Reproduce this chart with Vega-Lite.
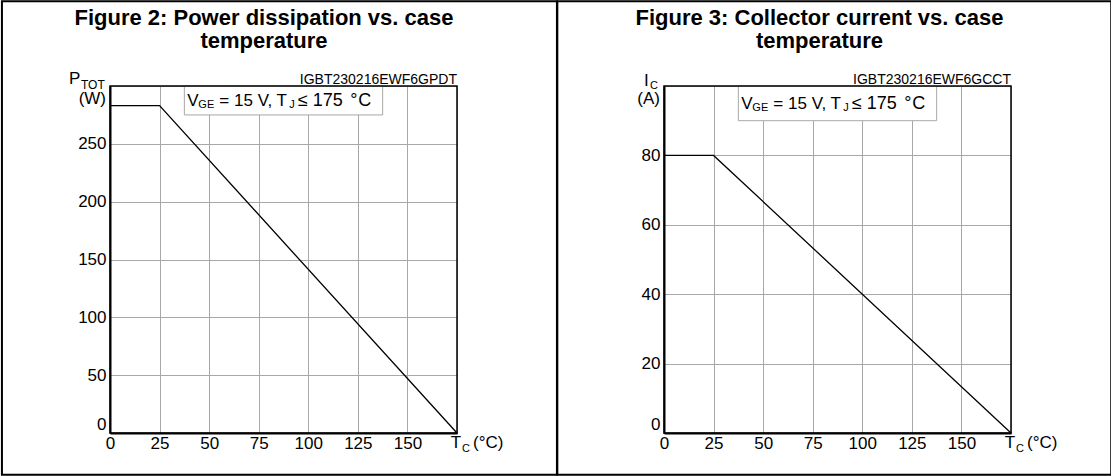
{
  "$schema": "https://vega.github.io/schema/vega-lite/v6.json",
  "background": "white",
  "padding": 0,
  "autosize": {"type": "pad"},
  "spacing": 207,
  "bounds": "flush",
  "config": {
    "font": "Liberation Sans",
    "view": {"stroke": null},
    "axis": {"grid": true, "labelFont": "Liberation Sans", "labelFontSize": 17, "labelColor": "black", "gridColor": "#a8a8a8", "gridOpacity": 1, "gridWidth": 1, "domainColor": "black", "domainWidth": 2, "ticks": false},
    "text": {"font": "Liberation Sans", "color": "black", "fontSize": 17}
  },
  "hconcat": [
    {
      "width": 347,
      "height": 347,
      "layer": [
        {
          "data": {"values": [{}]},
          "mark": {"type": "rect", "filled": false, "stroke": "black", "strokeWidth": 2},
          "encoding": {
            "x": {"datum": -54.5, "type": "quantitative", "scale": {"domain": [0, 175], "nice": false}},
            "x2": {"datum": 225.4},
            "y": {"datum": -36.1, "type": "quantitative", "scale": {"domain": [0, 300], "nice": false}},
            "y2": {"datum": 373.2}
          }
        },
        {
          "data": {"values": [{}]},
          "mark": {"type": "rect", "fill": "white", "stroke": "#a8a8a8", "strokeWidth": 1},
          "encoding": {
            "x": {"datum": 37.5, "type": "quantitative"},
            "x2": {"datum": 137.5},
            "y": {"datum": 275, "type": "quantitative"},
            "y2": {"datum": 300}
          }
        },
        {
          "data": {"values": [{"tc": 0, "ptot": 283}, {"tc": 25, "ptot": 283}, {"tc": 175, "ptot": 0}]},
          "mark": {"type": "line", "color": "black", "strokeWidth": 1.3},
          "encoding": {
            "x": {"field": "tc", "type": "quantitative", "scale": {"domain": [0, 175], "nice": false},
              "axis": {"title": null, "grid": true, "values": [0, 12.5, 25, 37.5, 50, 62.5, 75, 87.5, 100, 112.5, 125, 137.5, 150, 162.5, 175], "labelExpr": "datum.value % 25 == 0 && datum.value < 175 ? '' + datum.value : ''", "labelPadding": 2, "labelFlush": false, "labelOverlap": false, "labelAngle": 0}},
            "y": {"field": "ptot", "type": "quantitative", "scale": {"domain": [0, 300], "nice": false},
              "axis": {"title": null, "grid": true, "values": [0, 25, 50, 75, 100, 125, 150, 175, 200, 225, 250, 275, 300], "labelExpr": "datum.value % 50 == 0 && datum.value < 300 ? '' + datum.value : ''", "labelPadding": 4, "labelFlush": true, "labelFlushOffset": 0, "labelOverlap": false}}
          }
        },
        {
          "data": {"values": [{}]},
          "mark": {"type": "rect", "filled": false, "stroke": "black", "strokeWidth": 1.5},
          "encoding": {
            "x": {"datum": 0, "type": "quantitative"},
            "x2": {"datum": 175},
            "y": {"datum": 0, "type": "quantitative"},
            "y2": {"datum": 300}
          }
        },
        {"data": {"values": [{}]}, "mark": {"type": "text", "text": ["Figure 2: Power dissipation vs. case", "temperature"], "fontSize": 22, "fontWeight": "bold", "lineHeight": 23, "align": "center", "baseline": "middle", "dx": -19.5, "dy": -68}, "encoding": {"x": {"datum": 87.5, "type": "quantitative"}, "y": {"datum": 300, "type": "quantitative"}}},
        {"data": {"values": [{}]}, "mark": {"type": "text", "text": "V", "align": "left", "baseline": "middle", "dx": 3, "dy": 1}, "encoding": {"x": {"datum": 37.5, "type": "quantitative"}, "y": {"datum": 287.5, "type": "quantitative"}}},
        {"data": {"values": [{}]}, "mark": {"type": "text", "text": "GE", "fontSize": 11, "align": "left", "baseline": "middle", "dx": 14, "dy": 5}, "encoding": {"x": {"datum": 37.5, "type": "quantitative"}, "y": {"datum": 287.5, "type": "quantitative"}}},
        {"data": {"values": [{}]}, "mark": {"type": "text", "text": "= 15 V, T", "align": "left", "baseline": "middle", "dx": 35, "dy": 1}, "encoding": {"x": {"datum": 37.5, "type": "quantitative"}, "y": {"datum": 287.5, "type": "quantitative"}}},
        {"data": {"values": [{}]}, "mark": {"type": "text", "text": "J", "fontSize": 11, "align": "left", "baseline": "middle", "dx": 105, "dy": 5}, "encoding": {"x": {"datum": 37.5, "type": "quantitative"}, "y": {"datum": 287.5, "type": "quantitative"}}},
        {"data": {"values": [{}]}, "mark": {"type": "text", "text": "≤ 175", "fontSize": 18, "align": "left", "baseline": "middle", "dx": 113.6, "dy": 1}, "encoding": {"x": {"datum": 37.5, "type": "quantitative"}, "y": {"datum": 287.5, "type": "quantitative"}}},
        {"data": {"values": [{}]}, "mark": {"type": "text", "text": "°", "fontSize": 18, "align": "left", "baseline": "middle", "dx": 166, "dy": 1}, "encoding": {"x": {"datum": 37.5, "type": "quantitative"}, "y": {"datum": 287.5, "type": "quantitative"}}},
        {"data": {"values": [{}]}, "mark": {"type": "text", "text": "C", "fontSize": 18, "align": "left", "baseline": "middle", "dx": 174, "dy": 1}, "encoding": {"x": {"datum": 37.5, "type": "quantitative"}, "y": {"datum": 287.5, "type": "quantitative"}}},
        {"data": {"values": [{}]}, "mark": {"type": "text", "text": "IGBT230216EWF6GPDT", "fontSize": 14, "align": "right", "baseline": "alphabetic", "dy": -2}, "encoding": {"x": {"datum": 175, "type": "quantitative"}, "y": {"datum": 300, "type": "quantitative"}}},
        {"data": {"values": [{}]}, "mark": {"type": "text", "text": "P", "align": "left", "baseline": "middle", "dx": -41, "dy": -7}, "encoding": {"x": {"datum": 0, "type": "quantitative"}, "y": {"datum": 300, "type": "quantitative"}}},
        {"data": {"values": [{}]}, "mark": {"type": "text", "text": "TOT", "fontSize": 12, "align": "left", "baseline": "middle", "dx": -29, "dy": -1}, "encoding": {"x": {"datum": 0, "type": "quantitative"}, "y": {"datum": 300, "type": "quantitative"}}},
        {"data": {"values": [{}]}, "mark": {"type": "text", "text": "(W)", "align": "right", "baseline": "middle", "dx": -4, "dy": 13}, "encoding": {"x": {"datum": 0, "type": "quantitative"}, "y": {"datum": 300, "type": "quantitative"}}},
        {"data": {"values": [{}]}, "mark": {"type": "text", "text": "T", "align": "center", "baseline": "top", "dx": -1, "dy": 2}, "encoding": {"x": {"datum": 175, "type": "quantitative"}, "y": {"datum": 0, "type": "quantitative"}}},
        {"data": {"values": [{}]}, "mark": {"type": "text", "text": "C", "fontSize": 11, "align": "left", "baseline": "top", "dx": 5, "dy": 10}, "encoding": {"x": {"datum": 175, "type": "quantitative"}, "y": {"datum": 0, "type": "quantitative"}}},
        {"data": {"values": [{}]}, "mark": {"type": "text", "text": "(°C)", "align": "left", "baseline": "top", "dx": 16, "dy": 2}, "encoding": {"x": {"datum": 175, "type": "quantitative"}, "y": {"datum": 0, "type": "quantitative"}}}
      ]
    },
    {
      "width": 347,
      "height": 347,
      "layer": [
        {
          "data": {"values": [{}]},
          "mark": {"type": "rect", "filled": false, "stroke": "black", "strokeWidth": 2},
          "encoding": {
            "x": {"datum": -53.8, "type": "quantitative", "scale": {"domain": [0, 175], "nice": false}},
            "x2": {"datum": 225.56},
            "y": {"datum": -12.05, "type": "quantitative", "scale": {"domain": [0, 100], "nice": false}},
            "y2": {"datum": 124.4}
          }
        },
        {
          "data": {"values": [{}]},
          "mark": {"type": "rect", "fill": "white", "stroke": "#a8a8a8", "strokeWidth": 1},
          "encoding": {
            "x": {"datum": 37.5, "type": "quantitative"},
            "x2": {"datum": 137.5},
            "y": {"datum": 90, "type": "quantitative"},
            "y2": {"datum": 100}
          }
        },
        {
          "data": {"values": [{"tc": 0, "ic": 80}, {"tc": 25, "ic": 80}, {"tc": 175, "ic": 0}]},
          "mark": {"type": "line", "color": "black", "strokeWidth": 1.3},
          "encoding": {
            "x": {"field": "tc", "type": "quantitative", "scale": {"domain": [0, 175], "nice": false},
              "axis": {"title": null, "grid": true, "values": [0, 12.5, 25, 37.5, 50, 62.5, 75, 87.5, 100, 112.5, 125, 137.5, 150, 162.5, 175], "labelExpr": "datum.value % 25 == 0 && datum.value < 175 ? '' + datum.value : ''", "labelPadding": 2, "labelFlush": false, "labelOverlap": false, "labelAngle": 0}},
            "y": {"field": "ic", "type": "quantitative", "scale": {"domain": [0, 100], "nice": false},
              "axis": {"title": null, "grid": true, "values": [0, 10, 20, 30, 40, 50, 60, 70, 80, 90, 100], "labelExpr": "datum.value % 20 == 0 && datum.value < 100 ? '' + datum.value : ''", "labelPadding": 4, "labelFlush": true, "labelFlushOffset": 0, "labelOverlap": false}}
          }
        },
        {
          "data": {"values": [{}]},
          "mark": {"type": "rect", "filled": false, "stroke": "black", "strokeWidth": 1.5},
          "encoding": {
            "x": {"datum": 0, "type": "quantitative"},
            "x2": {"datum": 175},
            "y": {"datum": 0, "type": "quantitative"},
            "y2": {"datum": 100}
          }
        },
        {"data": {"values": [{}]}, "mark": {"type": "text", "text": ["Figure 3: Collector current vs. case", "temperature"], "fontSize": 22, "fontWeight": "bold", "lineHeight": 23, "align": "center", "baseline": "middle", "dx": -18, "dy": -68}, "encoding": {"x": {"datum": 87.5, "type": "quantitative"}, "y": {"datum": 100, "type": "quantitative"}}},
        {"data": {"values": [{}]}, "mark": {"type": "text", "text": "V", "align": "left", "baseline": "middle", "dx": 3, "dy": 1}, "encoding": {"x": {"datum": 37.5, "type": "quantitative"}, "y": {"datum": 95, "type": "quantitative"}}},
        {"data": {"values": [{}]}, "mark": {"type": "text", "text": "GE", "fontSize": 11, "align": "left", "baseline": "middle", "dx": 14, "dy": 5}, "encoding": {"x": {"datum": 37.5, "type": "quantitative"}, "y": {"datum": 95, "type": "quantitative"}}},
        {"data": {"values": [{}]}, "mark": {"type": "text", "text": "= 15 V, T", "align": "left", "baseline": "middle", "dx": 35, "dy": 1}, "encoding": {"x": {"datum": 37.5, "type": "quantitative"}, "y": {"datum": 95, "type": "quantitative"}}},
        {"data": {"values": [{}]}, "mark": {"type": "text", "text": "J", "fontSize": 11, "align": "left", "baseline": "middle", "dx": 105, "dy": 5}, "encoding": {"x": {"datum": 37.5, "type": "quantitative"}, "y": {"datum": 95, "type": "quantitative"}}},
        {"data": {"values": [{}]}, "mark": {"type": "text", "text": "≤ 175", "fontSize": 18, "align": "left", "baseline": "middle", "dx": 113.6, "dy": 1}, "encoding": {"x": {"datum": 37.5, "type": "quantitative"}, "y": {"datum": 95, "type": "quantitative"}}},
        {"data": {"values": [{}]}, "mark": {"type": "text", "text": "°", "fontSize": 18, "align": "left", "baseline": "middle", "dx": 166, "dy": 1}, "encoding": {"x": {"datum": 37.5, "type": "quantitative"}, "y": {"datum": 95, "type": "quantitative"}}},
        {"data": {"values": [{}]}, "mark": {"type": "text", "text": "C", "fontSize": 18, "align": "left", "baseline": "middle", "dx": 174, "dy": 1}, "encoding": {"x": {"datum": 37.5, "type": "quantitative"}, "y": {"datum": 95, "type": "quantitative"}}},
        {"data": {"values": [{}]}, "mark": {"type": "text", "text": "IGBT230216EWF6GCCT", "fontSize": 14, "align": "right", "baseline": "alphabetic", "dy": -2}, "encoding": {"x": {"datum": 175, "type": "quantitative"}, "y": {"datum": 100, "type": "quantitative"}}},
        {"data": {"values": [{}]}, "mark": {"type": "text", "text": "I", "align": "left", "baseline": "middle", "dx": -20, "dy": -5}, "encoding": {"x": {"datum": 0, "type": "quantitative"}, "y": {"datum": 100, "type": "quantitative"}}},
        {"data": {"values": [{}]}, "mark": {"type": "text", "text": "C", "fontSize": 11, "align": "left", "baseline": "middle", "dx": -14, "dy": 0}, "encoding": {"x": {"datum": 0, "type": "quantitative"}, "y": {"datum": 100, "type": "quantitative"}}},
        {"data": {"values": [{}]}, "mark": {"type": "text", "text": "(A)", "align": "right", "baseline": "middle", "dx": -4, "dy": 13}, "encoding": {"x": {"datum": 0, "type": "quantitative"}, "y": {"datum": 100, "type": "quantitative"}}},
        {"data": {"values": [{}]}, "mark": {"type": "text", "text": "T", "align": "center", "baseline": "top", "dx": -1, "dy": 2}, "encoding": {"x": {"datum": 175, "type": "quantitative"}, "y": {"datum": 0, "type": "quantitative"}}},
        {"data": {"values": [{}]}, "mark": {"type": "text", "text": "C", "fontSize": 11, "align": "left", "baseline": "top", "dx": 5, "dy": 10}, "encoding": {"x": {"datum": 175, "type": "quantitative"}, "y": {"datum": 0, "type": "quantitative"}}},
        {"data": {"values": [{}]}, "mark": {"type": "text", "text": "(°C)", "align": "left", "baseline": "top", "dx": 16, "dy": 2}, "encoding": {"x": {"datum": 175, "type": "quantitative"}, "y": {"datum": 0, "type": "quantitative"}}}
      ]
    }
  ]
}
